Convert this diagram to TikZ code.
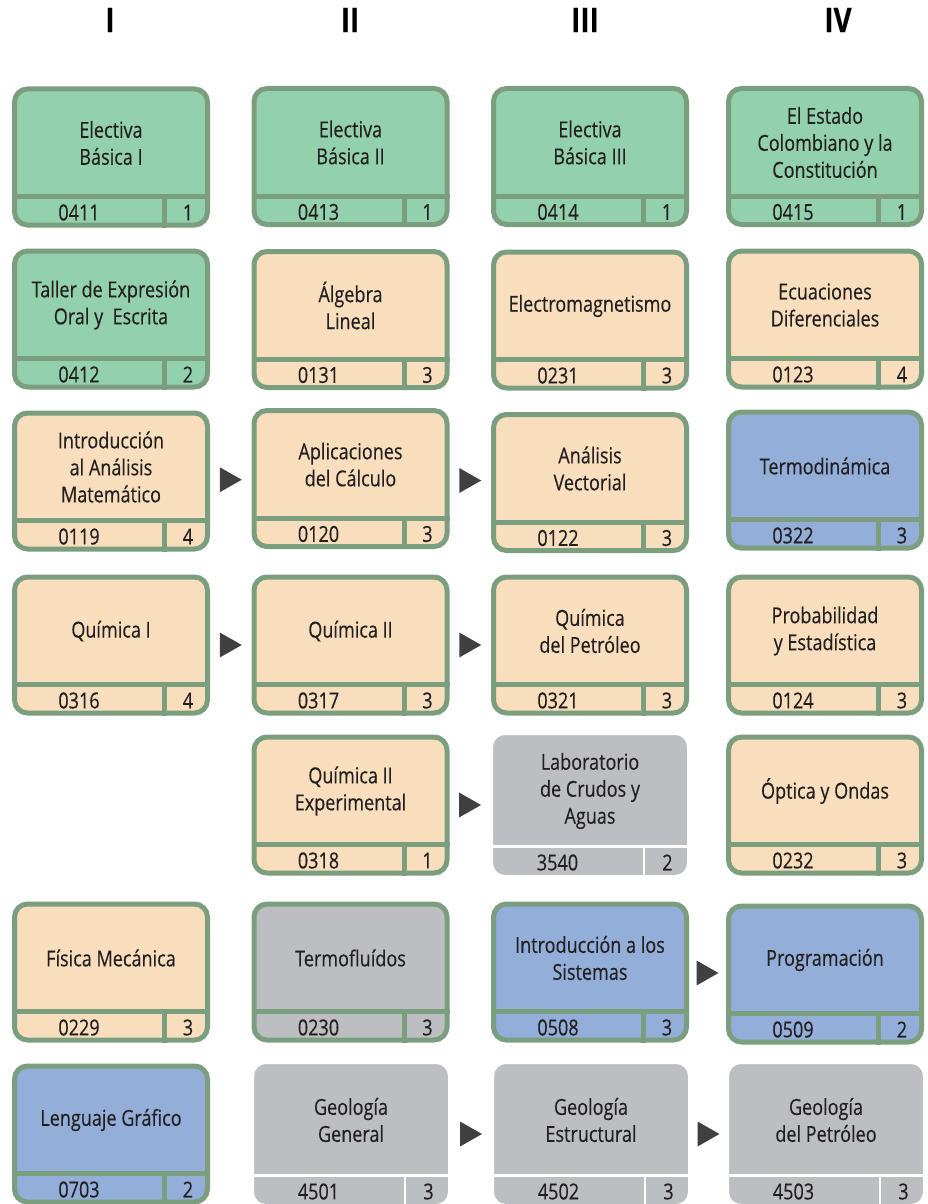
\documentclass[tikz,border=0pt]{standalone}
\usepackage{fontspec}
\setmainfont{Open Sans}[FakeStretch=0.82,FakeBold=0.3]
\usetikzlibrary{calc}
\definecolor{cverde}{HTML}{93D1AE}
\definecolor{ccrema}{HTML}{F9DEBD}
\definecolor{cazul}{HTML}{92AED9}
\definecolor{cgris}{HTML}{BDBEC1}
\definecolor{cborde}{HTML}{7B9E7E}
\definecolor{ctexto}{HTML}{231F20}
\definecolor{cflecha}{HTML}{404040}
\tikzset{
	caja/.style={rectangle,rounded corners=13pt,draw=cborde,line width=5pt,minimum width=193pt,minimum height=136pt,inner sep=0pt},
	verde/.style={caja,fill=cverde},
	crema/.style={caja,fill=ccrema},
	azul/.style={caja,fill=cazul},
	grisv/.style={caja,fill=cgris},
	gris/.style={caja,fill=cgris,draw=white,line width=2.5pt,minimum width=196.5pt,minimum height=142.5pt},
	titulo/.style={align=center,text=ctexto,font=\fontsize{22}{27}\selectfont},
	dato/.style={text=ctexto,font=\fontsize{22}{22}\selectfont},
	cabeza/.style={text=black,font=\bfseries\fontsize{34}{34}\selectfont},
	flecha/.style={fill=cflecha}
}
\begin{document}
\begin{tikzpicture}[x=1pt,y=-1pt]
	\useasboundingbox (0,0) rectangle (928,1204);
	% semestres
	\foreach \x/\r in {110/I,350/II,585/III,838/IV}\node[cabeza] (s\r) at (\x,20) {\r};
	% asignaturas
	\foreach \n/\s/\x/\y/\t/\c/\k in {
		a1/verde/111/157/{Electiva\\Básica I}/0411/1,
		b1/verde/350.5/156.5/{Electiva\\Básica II}/0413/1,
		c1/verde/590/156.5/{Electiva\\Básica III}/0414/1,
		d1/verde/825/156.5/{El Estado\\Colombiano y la\\Constitución}/0415/1,
		a2/verde/111/319/{Taller de Expresión\\Oral y~ Escrita}/0412/2,
		b2/crema/350.5/319.5/{Álgebra\\Lineal}/0131/3,
		c2/crema/590/320/{Electromagnetismo}/0231/3,
		d2/crema/825/319/{Ecuaciones\\Diferenciales}/0123/4,
		a3/crema/111/481/{Introducción\\al Análisis\\Matemático}/0119/4,
		b3/crema/350.5/478.5/{Aplicaciones\\del Cálculo}/0120/3,
		c3/crema/590/482.5/{Análisis\\Vectorial}/0122/3,
		d3/azul/825/480/{Termodinámica}/0322/3,
		a4/crema/111/645/{Química I}/0316/4,
		b4/crema/350.5/645/{Química II}/0317/3,
		c4/crema/590/645/{Química\\del Petróleo}/0321/3,
		d4/crema/825/645/{Probabilidad\\y Estadística}/0124/3,
		b5/crema/350.5/805/{Química II\\Experimental}/0318/1,
		c5/gris/590/805/{Laboratorio\\de Crudos y\\Aguas}/3540/2,
		d5/crema/825/805/{Óptica y Ondas}/0232/3,
		a6/crema/111/972/{Física Mecánica}/0229/3,
		b6/grisv/350.5/972/{Termofluídos}/0230/3,
		c6/azul/590/972/{Introducción a los\\Sistemas}/0508/3,
		d6/azul/825/974/{Programación}/0509/2,
		a7/azul/111/1134/{Lenguaje Gráfico}/0703/2,
		b7/gris/351/1134/{Geología\\General}/4501/3,
		c7/gris/591/1134/{Geología\\Estructural}/4502/3,
		d7/gris/826/1134/{Geología\\del Petróleo}/4503/3}{
		\node[\s] (\n) at (\x,\y) {};
		\draw[\s,fill=none,sharp corners] ([yshift=31pt]\n.south west)--([yshift=31pt]\n.south east) ([yshift=31pt,xshift=-45.5pt]\n.south east)--([xshift=-45.5pt]\n.south east);
		\node[titulo] (t\n) at ([yshift=14pt]\n.center) {\t};
		\node[dato] (co\n) at ([xshift=67pt,yshift=15pt]\n.south west) {\c};
		\node[dato] (cr\n) at ([xshift=-22pt,yshift=15pt]\n.south east) {\k};
	}
	% prerrequisitos
	\foreach \a/\b in {a3/b3,b3/c3,a4/b4,b4/c4,b5/c5,c6/d6,b7/c7,c7/d7}
		\fill[flecha] ($(\a.east)!.5!(\b.west)$) +(-11,-12.5) -- +(11,0) -- +(-11,12.5) -- cycle;
\end{tikzpicture}
\end{document}
